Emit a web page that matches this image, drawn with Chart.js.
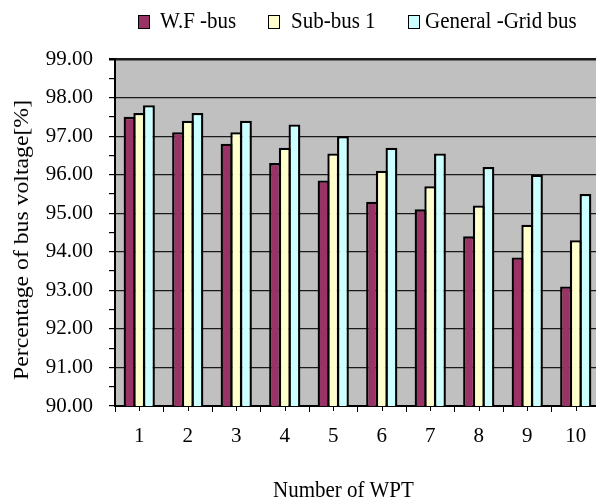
<!DOCTYPE html>
<html>
<head>
<meta charset="utf-8">
<script src="https://cdn.jsdelivr.net/npm/chart.js@4/dist/chart.umd.min.js"></script>
<style>
  html, body { margin: 0; padding: 0; background: #fff; overflow: hidden; }
  #wrap {
    position: relative; width: 596px; height: 499px; overflow: hidden;
    font-family: "Liberation Serif", "Times New Roman", serif; color: #000;
  }
  #box { position: absolute; left: 0; top: 0; width: 604px; height: 499px; }
  .txt { position: absolute; font-size: 21px; line-height: 24px; white-space: nowrap; }
  .tall { transform: scaleY(1.12); transform-origin: 0 19px; }
  .sw { position: absolute; width: 10px; height: 12px; border: 1.5px solid #000; }
  #ytitle {
    left: 21px; top: 240px;
    transform: translate(-50%, -50%) rotate(-90deg) scaleX(1.13);
  }
</style>
</head>
<body>
<div id="wrap">
  <div id="box"><canvas id="chart"></canvas></div>

  <div class="sw" style="left:138px; top:15px; background:#993366"></div>
  <div class="txt tall" style="left:160px; top:9px">W.F -bus</div>
  <div class="sw" style="left:268px; top:15px; background:#FFFFCC"></div>
  <div class="txt tall" style="left:291px; top:9px">Sub-bus 1</div>
  <div class="sw" style="left:408px; top:15px; background:#CCFFFF"></div>
  <div class="txt tall" style="left:425px; top:9px">General -Grid bus</div>

  <div class="txt" id="ytitle">Percentage of bus voltage[%]</div>
  <div class="txt tall" style="left:273px; top:478px">Number of WPT</div>
</div>

<script>
// Number of wind power turbines on the x axis
const categories = ['1', '2', '3', '4', '5', '6', '7', '8', '9', '10'];

// Bus voltage in percent of nominal
const wfBus    = [97.5, 97.1, 96.8, 96.3, 95.85, 95.3, 95.1, 94.4, 93.85, 93.1];
const subBus1  = [97.6, 97.4, 97.1, 96.7, 96.55, 96.1, 95.7, 95.2, 94.7, 94.3];
const gridBus  = [97.8, 97.6, 97.4, 97.3, 97.0, 96.7, 96.55, 96.2, 96.0, 95.5];

// Value axis range
const yMin = 90;
const yMax = 99;

const FONT = { family: '"Liberation Serif", "Times New Roman", serif', size: 21 };

// Grey plot area behind the bars
const plotBackground = {
  id: 'plotBackground',
  beforeDraw(chart) {
    const { ctx, chartArea: a } = chart;
    ctx.save();
    ctx.fillStyle = '#C0C0C0';
    ctx.fillRect(a.left, a.top, a.right - a.left, a.bottom - a.top);
    ctx.restore();
  }
};

// Short tick marks under each category centre
const centreTicks = {
  id: 'centreTicks',
  afterDraw(chart) {
    const x = chart.scales.x;
    const ctx = chart.ctx;
    ctx.save();
    ctx.strokeStyle = '#000';
    ctx.lineWidth = 1;
    categories.forEach((c, i) => {
      const px = Math.round(x.getPixelForValue(i)) + 0.5;
      ctx.beginPath();
      ctx.moveTo(px, x.top);
      ctx.lineTo(px, x.top + 5);
      ctx.stroke();
    });
    ctx.restore();
  }
};

new Chart(document.getElementById('chart'), {
  type: 'bar',
  data: {
    labels: categories,
    datasets: [
      { label: 'W.F -bus',          data: wfBus,   backgroundColor: '#993366' },
      { label: 'Sub-bus 1',         data: subBus1, backgroundColor: '#FFFFCC' },
      { label: 'General -Grid bus', data: gridBus, backgroundColor: '#CCFFFF' }
    ]
  },
  options: {
    responsive: true,
    maintainAspectRatio: false,
    animation: false,
    layout: { padding: { top: 59, right: 4, bottom: 0, left: 0 } },
    datasets: {
      bar: {
        categoryPercentage: 0.6,
        barPercentage: 1.22,
        borderWidth: 2.3,
        borderColor: '#000'
      }
    },
    plugins: {
      legend: { display: false },
      tooltip: { enabled: false }
    },
    scales: {
      x: {
        offset: true,
        grid: { offset: true, drawOnChartArea: false, color: '#000', tickColor: '#000', tickLength: 6 },
        border: { color: '#000', width: 2 },
        ticks: { font: FONT, color: '#000', padding: 12, maxRotation: 0, autoSkip: false },
        afterFit(scale) { scale.height = 93; }
      },
      y: {
        min: yMin,
        max: yMax,
        ticks: {
          stepSize: 0.5,
          autoSkip: false,
          font: FONT,
          color: '#000',
          padding: 16,
          callback: v => Number.isInteger(v) ? v.toFixed(2) : ''
        },
        grid: {
          color: c => (Number.isInteger(c.tick.value) && c.tick.value > yMin) ? '#1a1a1a' : 'rgba(0,0,0,0)',
          lineWidth: c => c.tick.value === yMax ? 2.5 : 1.2,
          tickColor: '#000',
          tickLength: 6
        },
        border: { color: '#000', width: 2 },
        afterFit(scale) { scale.width = 115; }
      }
    }
  },
  plugins: [plotBackground, centreTicks]
});
</script>
</body>
</html>
